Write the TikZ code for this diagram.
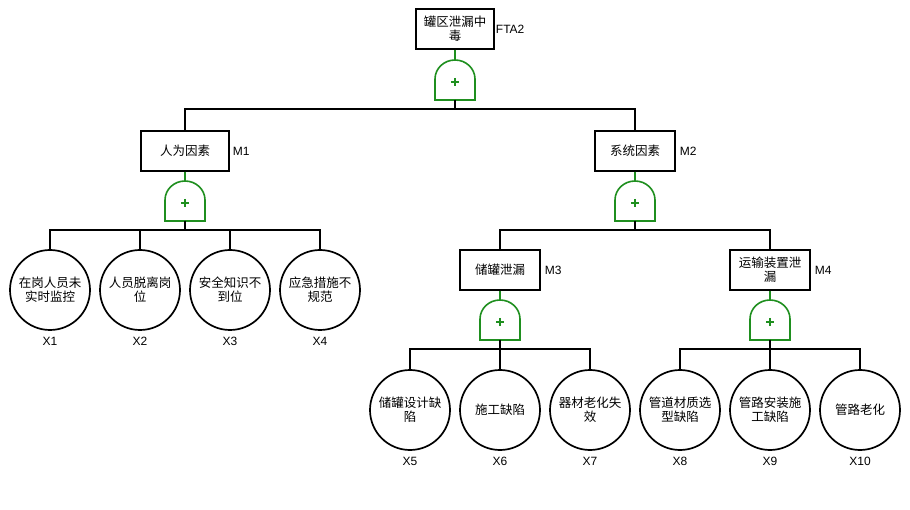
\documentclass[tikz,border=0pt]{standalone}
\usepackage{fontspec}
\setmainfont{Liberation Sans}
\newfontfamily\cjk{Noto Sans CJK SC}
\usetikzlibrary{positioning}
\definecolor{GateGreen}{HTML}{1F8F1F}
\tikzset{
  evt/.style={draw,line width=1.5pt,rectangle,minimum width=80pt,minimum height=40pt,inner sep=1pt,align=center,font=\cjk\fontsize{12.5}{14}\selectfont},
  basic/.style={draw,line width=1.7pt,circle,minimum size=80pt,inner sep=0pt,align=center,font=\cjk\fontsize{12.5}{14}\selectfont},
  tag/.style={font=\fontsize{12}{13}\selectfont,inner sep=1pt},
  link/.style={line width=1.6pt},
}
% or gate: name, x, top y
\newcommand{\orgate}[3]{%
  \coordinate (#1t) at (#2,#3);
  \coordinate (#1b) at (#2,#3+40);
  \draw[GateGreen,line width=1.6pt] (#2-20,#3+40) -- (#2-20,#3+19) arc[start angle=180,end angle=360,x radius=20,y radius=19] -- (#2+20,#3+40) -- cycle;
  \draw[GateGreen,line width=1.7pt] (#2-4,#3+22) -- (#2+4,#3+22) (#2,#3+18) -- (#2,#3+26);
}

\begin{document}
\begin{tikzpicture}[x=1pt,y=-1pt]
        \useasboundingbox (0,0) rectangle (910,510);

        \node[evt,minimum width=78pt] (top) at (455,29) {罐区泄漏中\\毒};
        \node[tag,right=0pt of top] (toptag) {FTA2};
        \orgate{g0}{455}{60}
        \draw[GateGreen,link] (top) -- (g0t);

        \node[evt,minimum width=88pt] (m1) at (185,151) {人为因素};
        \node[tag,right=2pt of m1] (m1tag) {M1};
        \node[evt] (m2) at (635,151) {系统因素};
        \node[tag,right=3pt of m2] (m2tag) {M2};
        \foreach \m in {m1,m2}
        {
            \draw[link] (g0b) -- ++(0,9) -| (\m);
        }
        \orgate{g1}{185}{181}
        \orgate{g2}{635}{181}
        \draw[GateGreen,link] (m1) -- (g1t);
        \draw[GateGreen,link] (m2) -- (g2t);

        \foreach \n/\xx/\txt in {1/50/{在岗人员未\\实时监控},2/140/{人员脱离岗\\位},3/230/{安全知识不\\到位},4/320/{应急措施不\\规范}}
        {
            \node[basic] (x\n) at (\xx,290) {\txt};
            \node[tag,below=5pt of x\n] (lx\n) {X\n};
            \draw[link] (g1b) -- ++(0,9) -| (x\n);
        }

        \node[evt] (m3) at (500,270) {储罐泄漏};
        \node[tag,right=3pt of m3] (m3tag) {M3};
        \node[evt] (m4) at (770,270) {运输装置泄\\漏};
        \node[tag,right=3pt of m4] (m4tag) {M4};
        \foreach \m in {m3,m4}
        {
            \draw[link] (g2b) -- ++(0,9) -| (\m);
        }
        \orgate{g3}{500}{300}
        \orgate{g4}{770}{300}
        \draw[GateGreen,link] (m3) -- (g3t);
        \draw[GateGreen,link] (m4) -- (g4t);

        \foreach \n/\xx/\g/\txt in {5/410/g3/{储罐设计缺\\陷},6/500/g3/{施工缺陷},7/590/g3/{器材老化失\\效},8/680/g4/{管道材质选\\型缺陷},9/770/g4/{管路安装施\\工缺陷},10/860/g4/{管路老化}}
        {
            \node[basic] (x\n) at (\xx,410) {\txt};
            \node[tag,below=5pt of x\n] (lx\n) {X\n};
            \draw[link] (\g b) -- ++(0,9) -| (x\n);
        }
\end{tikzpicture}
\end{document}
